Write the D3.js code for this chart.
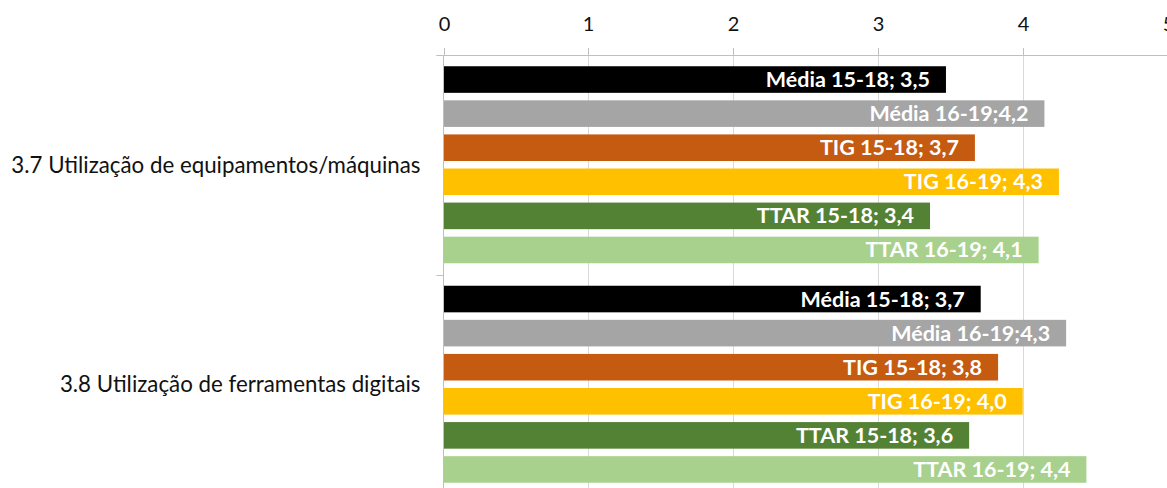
<!DOCTYPE html>
<html><head><meta charset="utf-8">
<script src="https://cdn.jsdelivr.net/npm/d3@7"></script>
<style>body{margin:0;background:#fff;} svg{display:block;}</style>
</head><body><svg id="c" width="1167" height="488"></svg>
<script>
const categories = ["3.7 Utilização de equipamentos/máquinas", "3.8 Utilização de ferramentas digitais"];
const series = ["Média 15-18", "Média 16-19", "TIG 15-18", "TIG 16-19", "TTAR 15-18", "TTAR 16-19"];
const seriesColors = ["#000000", "#A5A5A5", "#C55A11", "#FFC000", "#548235", "#A9D18E"];
const valuesCat37 = [3.47, 4.15, 3.67, 4.25, 3.36, 4.11];
const valuesCat38 = [3.71, 4.30, 3.83, 4.00, 3.63, 4.44];
const labelsCat37 = ["Média 15-18; 3,5", "Média 16-19;4,2", "TIG 15-18; 3,7", "TIG 16-19; 4,3", "TTAR 15-18; 3,4", "TTAR 16-19; 4,1"];
const labelsCat38 = ["Média 15-18; 3,7", "Média 16-19;4,3", "TIG 15-18; 3,8", "TIG 16-19; 4,0", "TTAR 15-18; 3,6", "TTAR 16-19; 4,4"];
const xTicks = [0, 1, 2, 3, 4, 5];

const catValues = [valuesCat37, valuesCat38];
const catLabels = [labelsCat37, labelsCat38];

const FONT = "Lato, 'Open Sans', sans-serif";
const svg = d3.select("#c");

const plotTop = 55, plotBottom = 494, plotLeft = 443.5, unit = 144.8;
const x = d3.scaleLinear().domain([0, 5]).range([plotLeft, plotLeft + 5 * unit]);
const y0 = d3.scaleBand().domain(categories).range([plotTop, plotBottom]);
const y1 = d3.scaleBand().domain(series).range([0, y0.bandwidth()]).paddingInner(0.22).paddingOuter(0.33);
const color = d3.scaleOrdinal().domain(series).range(seriesColors);
const px = v => Math.round(v) + 0.5;

// gridlines
svg.append("g").selectAll("line").data(xTicks.filter(d => d > 0)).join("line")
  .attr("x1", d => px(x(d))).attr("x2", d => px(x(d)))
  .attr("y1", plotTop).attr("y2", plotBottom)
  .attr("stroke", "#D9D9D9").attr("stroke-width", 1);

// bars
const groups = svg.append("g").selectAll("g").data(categories).join("g")
  .attr("transform", c => `translate(0,${y0(c)})`);

groups.each(function(c, ci) {
  const g = d3.select(this);
  const rows = series.map((s, i) => ({s, v: catValues[ci][i], label: catLabels[ci][i]}));
  g.selectAll("rect").data(rows).join("rect")
    .attr("x", x(0)).attr("y", d => y1(d.s))
    .attr("width", d => x(d.v) - x(0)).attr("height", y1.bandwidth())
    .attr("fill", d => color(d.s));
  g.selectAll("text").data(rows).join("text")
    .attr("x", d => x(d.v) - 16)
    .attr("y", d => y1(d.s) + y1.bandwidth() / 2 + 7.5)
    .attr("text-anchor", "end")
    .attr("fill", "#fff")
    .attr("font-family", FONT).attr("font-weight", "bold").attr("font-size", 21.5)
    .text(d => d.label);
});

// top axis
const xAxis = d3.axisTop(x).tickValues(xTicks).tickSize(7).tickSizeOuter(0).tickPadding(17).tickFormat(d3.format("d"));
const gx = svg.append("g").attr("transform", `translate(0,${plotTop})`).call(xAxis);
gx.select(".domain").remove();
gx.selectAll(".tick line").attr("stroke", "#BFBFBF");
gx.selectAll(".tick").attr("transform", d => `translate(${px(x(d))},0)`);
gx.selectAll(".tick text").attr("font-family", FONT).attr("font-size", 20).attr("fill", "#111");
svg.append("line").attr("x1", plotLeft - 7).attr("x2", 1167).attr("y1", px(plotTop)).attr("y2", px(plotTop))
  .attr("stroke", "#BFBFBF");

// left axis
const yAxis = d3.axisLeft(y0).tickSize(0).tickPadding(23);
const gy = svg.append("g").attr("transform", `translate(${plotLeft},0)`).call(yAxis);
gy.select(".domain").remove();
gy.selectAll(".tick text").attr("font-family", FONT).attr("font-size", 22.3).attr("fill", "#111").attr("dy", "0.35em");
svg.append("line").attr("x1", plotLeft).attr("x2", plotLeft).attr("y1", plotTop).attr("y2", plotBottom).attr("stroke", "#BFBFBF");
const bounds = categories.map(c => y0(c)).concat([y0(categories[categories.length - 1]) + y0.bandwidth()]);
svg.append("g").selectAll("line").data(bounds).join("line")
  .attr("x1", plotLeft - 7).attr("x2", plotLeft)
  .attr("y1", d => px(d)).attr("y2", d => px(d)).attr("stroke", "#BFBFBF");
</script></body></html>
